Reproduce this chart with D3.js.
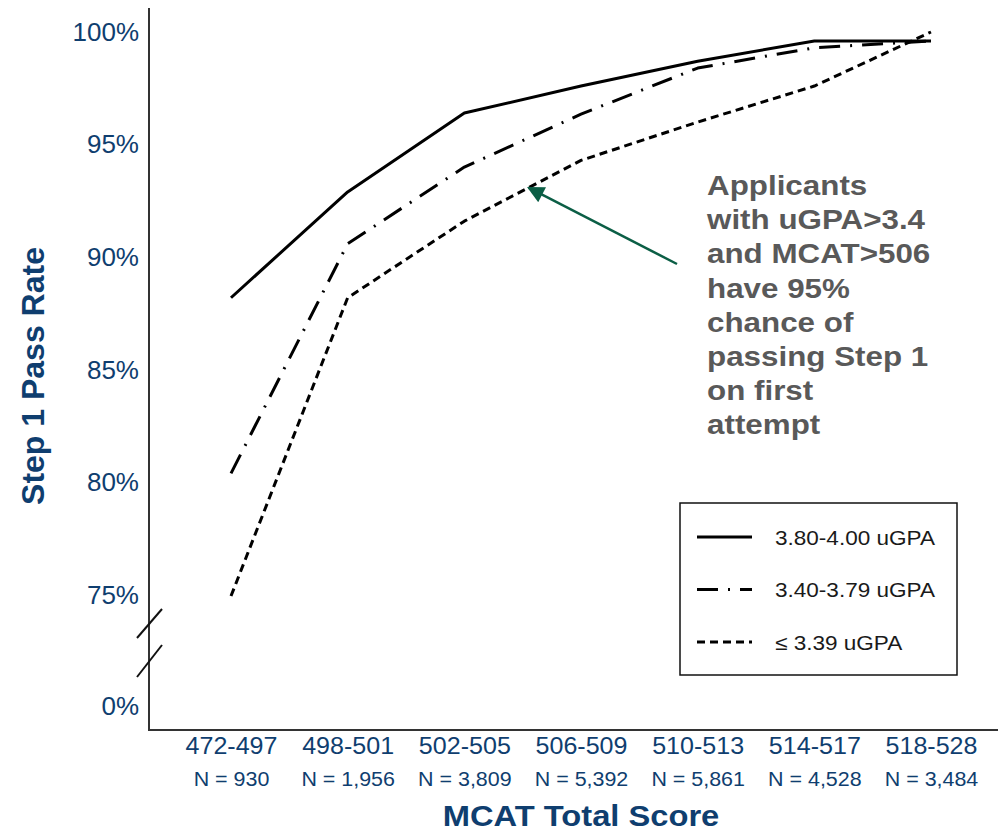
<!DOCTYPE html>
<html>
<head>
<meta charset="utf-8">
<script src="https://cdn.jsdelivr.net/npm/d3@7"></script>
<style>
  html, body { margin: 0; padding: 0; background: #fff; }
  svg { display: block; font-family: "Liberation Sans", Arial, Helvetica, sans-serif; }
</style>
</head>
<body>
<svg id="chart" width="998" height="833"></svg>
<script>
// ---- data ----
const categories = ["472-497", "498-501", "502-505", "506-509", "510-513", "514-517", "518-528"];
const counts = ["N = 930", "N = 1,956", "N = 3,809", "N = 5,392", "N = 5,861", "N = 4,528", "N = 3,484"];
const seriesNames = ["3.80-4.00 uGPA", "3.40-3.79 uGPA", "\u2264 3.39 uGPA"];
const gpaHigh = [88.2, 92.9, 96.4, 97.6, 98.7, 99.6, 99.6];
const gpaMid  = [80.4, 90.6, 94.0, 96.35, 98.4, 99.3, 99.6];
const gpaLow  = [74.3, 88.2, 91.6, 94.3, 96.0, 97.6, 100.0];
const yTicks = [0, 75, 80, 85, 90, 95, 100];
const annotationLines = ["Applicants", "with uGPA>3.4", "and MCAT>506", "have 95%", "chance of", "passing Step 1", "on first", "attempt"];

const BLUE = "#0f3e6f";
const svg = d3.select("#chart");

// scales (broken axis: 0% sits one step below 75%)
const x = d3.scalePoint().domain(categories).range([231, 931]);
const y = d3.scaleLinear().domain([0, 75, 100]).range([706, 595, 32]);

// axis lines
svg.append("line").attr("x1", 149).attr("x2", 149).attr("y1", 8).attr("y2", 730)
  .attr("stroke", "#333").attr("stroke-width", 2);
svg.append("line").attr("x1", 148).attr("x2", 998).attr("y1", 730).attr("y2", 730)
  .attr("stroke", "#333").attr("stroke-width", 2.2);

// axis break marks
[[638, 609], [677, 645]].forEach(([a, b]) => {
  svg.append("line").attr("x1", 137).attr("y1", a).attr("x2", 162).attr("y2", b)
    .attr("stroke", "#111").attr("stroke-width", 2);
});

// y axis
const yAxis = svg.append("g").attr("transform", "translate(149,0)")
  .call(d3.axisLeft(y).tickValues(yTicks).tickFormat(d => d + "%").tickSize(0).tickPadding(10));
yAxis.select(".domain").remove();
yAxis.selectAll("text").attr("font-size", 26).attr("fill", BLUE)
  .attr("font-family", "'Liberation Sans', Arial, sans-serif");

// x axis (two-line labels)
const xAxis = svg.append("g").attr("transform", "translate(0,730)")
  .call(d3.axisBottom(x).tickSize(0).tickFormat(""));
xAxis.select(".domain").remove();
xAxis.selectAll(".tick").each(function(d, i) {
  const g = d3.select(this);
  g.append("text").attr("transform", "translate(0,24) scale(1.09,1)")
    .attr("text-anchor", "middle").attr("font-size", 23).attr("fill", BLUE).text(d);
  g.append("text").attr("transform", "translate(0,56) scale(1.1,1)")
    .attr("text-anchor", "middle").attr("font-size", 19.5).attr("fill", BLUE).text(counts[i]);
});

// axis titles
svg.append("text").attr("transform", "translate(581,826) scale(1.09,1)")
  .attr("text-anchor", "middle").attr("font-size", 30).attr("font-weight", "bold")
  .attr("fill", BLUE).text("MCAT Total Score");
svg.append("text").attr("transform", "translate(44,376) rotate(-90)")
  .attr("text-anchor", "middle").attr("font-size", 32).attr("font-weight", "bold")
  .attr("fill", BLUE).text("Step 1 Pass Rate");

// series
const series = [
  { name: seriesNames[0], values: gpaHigh, dash: null },
  { name: seriesNames[1], values: gpaMid, dash: "21,10,2,10" },
  { name: seriesNames[2], values: gpaLow, dash: "8,5" }
];
const line = d3.line().x((d, i) => x(categories[i])).y(d => y(d));
svg.append("g").selectAll("path").data(series).join("path")
  .attr("d", d => line(d.values))
  .attr("fill", "none").attr("stroke", "#000").attr("stroke-width", 3)
  .attr("stroke-linejoin", "round")
  .attr("stroke-dasharray", d => d.dash);

// legend
const lg = svg.append("g");
lg.append("rect").attr("x", 680).attr("y", 503).attr("width", 277).attr("height", 172)
  .attr("fill", "#fff").attr("stroke", "#111").attr("stroke-width", 1.5);
series.forEach((s, i) => {
  const ly = 537 + i * 52.5;
  lg.append("line").attr("x1", 697).attr("x2", 752).attr("y1", ly).attr("y2", ly)
    .attr("stroke", "#000").attr("stroke-width", 3).attr("stroke-dasharray", s.dash);
  lg.append("text").attr("transform", `translate(775,${ly + 7.5}) scale(1.1,1)`)
    .attr("font-size", 20.5).attr("fill", "#1a1a1a").text(s.name);
});

// annotation arrow: tip on the lowest-GPA line between 502-505 and 506-509
const f = 0.55;
const tipX = x(categories[2]) + f * (x(categories[3]) - x(categories[2]));
const tipY = y(gpaLow[2] + f * (gpaLow[3] - gpaLow[2]));
svg.append("defs").append("marker").attr("id", "arrow")
  .attr("viewBox", "0 0 10 10").attr("refX", 9).attr("refY", 5)
  .attr("markerWidth", 20).attr("markerHeight", 17).attr("markerUnits", "userSpaceOnUse")
  .attr("orient", "auto")
  .append("path").attr("d", "M0,0 L10,5 L0,10 Z").attr("fill", "#0b5e45");
svg.append("line").attr("x1", 677).attr("y1", 264).attr("x2", tipX).attr("y2", tipY)
  .attr("stroke", "#0b5e45").attr("stroke-width", 2.5).attr("marker-end", "url(#arrow)");

// annotation text
annotationLines.forEach((t, i) => {
  svg.append("text").attr("transform", `translate(707,${195 + i * 34.2}) scale(1.12,1)`)
    .attr("font-size", 28).attr("font-weight", "bold").attr("fill", "#595959").text(t);
});
</script>
</body>
</html>
